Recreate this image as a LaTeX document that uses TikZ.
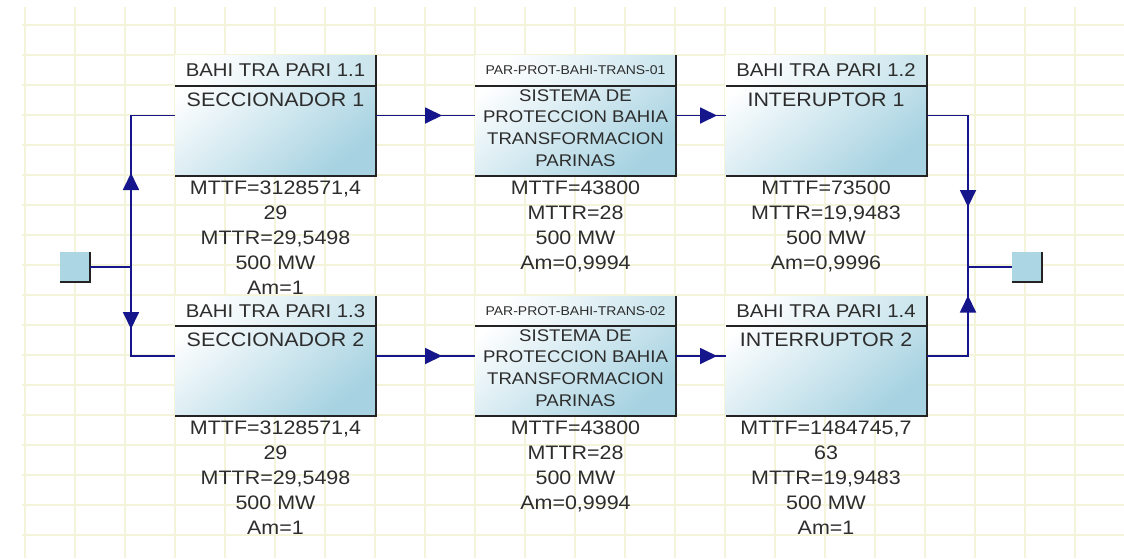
\documentclass[tikz,border=0pt]{standalone}
\usepackage{fontspec}
\setmainfont{Liberation Sans}[FakeStretch=1.1]
\usetikzlibrary{arrows.meta,decorations.markings,calc}
\definecolor{gridc}{RGB}{244,244,218}
\definecolor{navy}{RGB}{22,22,140}
\definecolor{boxblue}{RGB}{166,210,225}
\definecolor{hdrblue}{RGB}{205,230,238}
\definecolor{edgec}{RGB}{35,35,35}
\definecolor{txt}{RGB}{45,45,45}
\definecolor{sqblue}{RGB}{172,214,228}
\tikzset{
  boxn/.style={rectangle, inner sep=0pt, outer sep=0pt, minimum width=201pt, minimum height=#1,
    top color=white, bottom color=boxblue, shading angle=40},
  hdrshade/.style={top color=white, bottom color=hdrblue, shading angle=60},
  edge/.style={draw=edgec, line width=2pt},
  hdrtxt/.style={font=\fontsize{18.5}{22}\selectfont, text=txt, inner sep=0pt},
  smalltxt/.style={font=\fontsize{12.7}{15}\selectfont, text=txt, inner sep=0pt},
  nametxt/.style={font=\fontsize{19.5}{22}\selectfont, text=txt, inner sep=0pt, anchor=north, align=center},
  name2txt/.style={font=\fontsize{16.9}{21.7}\selectfont, text=txt, inner sep=0pt, anchor=north, align=center},
  stattxt/.style={font=\fontsize{19.5}{25}\selectfont, text=txt, inner sep=0pt, anchor=north, align=center},
  conn/.style={draw=navy, line width=1.8pt},
  arrowat/.style={postaction={decorate}, decoration={markings, mark=at position #1 with {\arrow{Triangle[length=17pt,width=16pt]}}}},
  term/.style={rectangle, inner sep=0pt, outer sep=0pt, minimum size=30pt, fill=sqblue},
}
\begin{document}
\begin{tikzpicture}[x=1pt,y=-1pt]
\useasboundingbox (0,0) rectangle (1124,558);
\fill[white] (0,0) rectangle (1124,558);
% grid
\foreach \gx in {25,75,...,1125} \draw[gridc, line width=2.4pt] (\gx,7) -- (\gx,558);
\foreach \gy in {25,55,...,555} \draw[gridc, line width=2.4pt] (22,\gy) -- (1124,\gy);

% row 1 boxes
\foreach \nm/\cx/\cy/\hh/\hgt in {k1/275.5/115.5/31/121, k2/575.5/115.5/31/121, k3/826/115.5/31/121}{
  \node[boxn=\hgt pt] (\nm) at (\cx,\cy) {};
  \path[hdrshade] (\nm.north west) rectangle ([yshift=-\hh pt]\nm.north east);
  \draw[edge] (\nm.north east) -- (\nm.south east) -- (\nm.south west);
  \draw[edge] ([yshift=-\hh pt]\nm.north west) -- ([yshift=-\hh pt]\nm.north east);
}
% row 1 texts
\node[hdrtxt] (h1) at ([yshift=-15.5pt]k1.north) {BAHI TRA PARI 1.1};
\node[smalltxt] (h2) at ([yshift=-15.5pt]k2.north) {PAR-PROT-BAHI-TRANS-01};
\node[hdrtxt] (h3) at ([yshift=-15.5pt]k3.north) {BAHI TRA PARI 1.2};
\node[nametxt] (n1) at ([yshift=-38pt]k1.north) {SECCIONADOR 1};
\node[name2txt] (n2) at ([yshift=-34pt]k2.north) {SISTEMA DE\\PROTECCION BAHIA\\TRANSFORMACION\\PARINAS};
\node[nametxt] (n3) at ([yshift=-38pt]k3.north) {INTERUPTOR 1};
\node[stattxt] (s1) at ([yshift=-5pt]k1.south) {MTTF=3128571,4\\29\\MTTR=29,5498\\500 MW\\Am=1};
\node[stattxt] (s2) at ([yshift=-5pt]k2.south) {MTTF=43800\\MTTR=28\\500 MW\\Am=0,9994};
\node[stattxt] (s3) at ([yshift=-5pt]k3.south) {MTTF=73500\\MTTR=19,9483\\500 MW\\Am=0,9996};

% row 2 boxes (on top of row 1 stats)
\foreach \nm/\cx/\cy/\hh/\hgt in {k4/275.5/356/30/120, k5/575.5/356/30/120, k6/826/356/30/120}{
  \node[boxn=\hgt pt] (\nm) at (\cx,\cy) {};
  \path[hdrshade] (\nm.north west) rectangle ([yshift=-\hh pt]\nm.north east);
  \draw[edge] (\nm.north east) -- (\nm.south east) -- (\nm.south west);
  \draw[edge] ([yshift=-\hh pt]\nm.north west) -- ([yshift=-\hh pt]\nm.north east);
}
\node[hdrtxt] (h4) at ([yshift=-15pt]k4.north) {BAHI TRA PARI 1.3};
\node[smalltxt] (h5) at ([yshift=-15pt]k5.north) {PAR-PROT-BAHI-TRANS-02};
\node[hdrtxt] (h6) at ([yshift=-15pt]k6.north) {BAHI TRA PARI 1.4};
\node[nametxt] (n4) at ([yshift=-37pt]k4.north) {SECCIONADOR 2};
\node[name2txt] (n5) at ([yshift=-33pt]k5.north) {SISTEMA DE\\PROTECCION BAHIA\\TRANSFORMACION\\PARINAS};
\node[nametxt] (n6) at ([yshift=-37pt]k6.north) {INTERRUPTOR 2};
\node[stattxt] (s4) at ([yshift=-5pt]k4.south) {MTTF=3128571,4\\29\\MTTR=29,5498\\500 MW\\Am=1};
\node[stattxt] (s5) at ([yshift=-5pt]k5.south) {MTTF=43800\\MTTR=28\\500 MW\\Am=0,9994};
\node[stattxt] (s6) at ([yshift=-5pt]k6.south) {MTTF=1484745,7\\63\\MTTR=19,9483\\500 MW\\Am=1};

% terminals
\node[term] (src) at (75,267) {};
\draw[edge] (src.north east) -- (src.south east) -- (src.south west);
\node[term] (snk) at (1027,267) {};
\draw[edge] (snk.north east) -- (snk.south east) -- (snk.south west);

% connectors
\coordinate (jl) at (131,267);
\coordinate (jr) at (968,267);
\draw[conn] (src.east) -- (jl);
\draw[conn, arrowat=94pt] (jl) |- (k1.west);
\draw[conn, arrowat=62pt] (jl) |- (k4.west);
\draw[conn, arrowat=66pt] (k1.east) -- (k2.west);
\draw[conn, arrowat=41pt] (k2.east) -- (k3.west);
\draw[conn, arrowat=66pt] (k4.east) -- (k5.west);
\draw[conn, arrowat=41pt] (k5.east) -- (k6.west);
\draw[conn, arrowat=133pt] (k3.east) -| (jr);
\draw[conn, arrowat=102pt] (k6.east) -| (jr);
\draw[conn] (jr) -- (snk.west);
\end{tikzpicture}
\end{document}
